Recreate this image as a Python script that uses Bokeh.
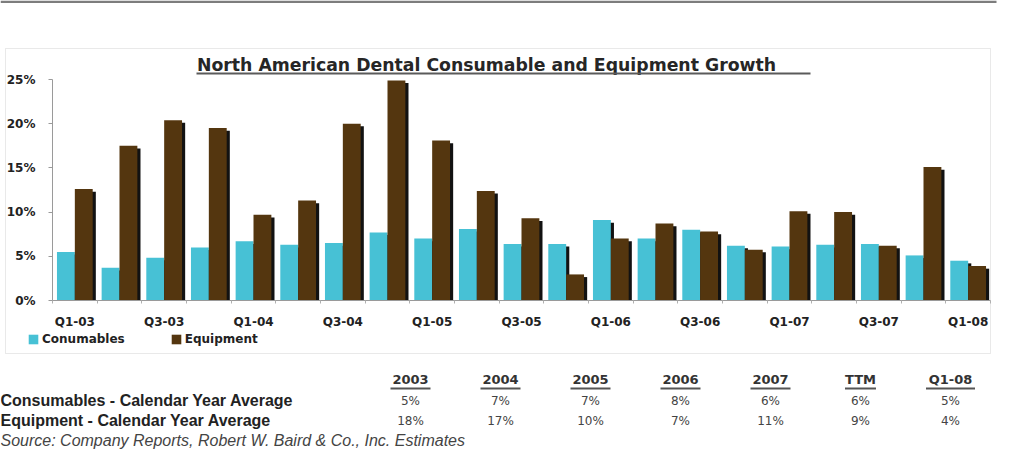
from bokeh.plotting import figure
from bokeh.models import (Range1d, Label, BoxAnnotation, Legend, LegendItem, LinearAxis,
                          FixedTicker, PrintfTickFormatter, ColumnDataSource)
from bokeh.embed import file_html
from bokeh.resources import INLINE
import numpy as np

# ---------------- data ----------------
quarters = ["Q1-03", "Q2-03", "Q3-03", "Q4-03", "Q1-04", "Q2-04", "Q3-04", "Q4-04",
            "Q1-05", "Q2-05", "Q3-05", "Q4-05", "Q1-06", "Q2-06", "Q3-06", "Q4-06",
            "Q1-07", "Q2-07", "Q3-07", "Q4-07", "Q1-08"]
consumables = [5.5, 3.7, 4.85, 6.0, 6.7, 6.3, 6.5, 7.7, 7.0, 8.1, 6.4,
               6.4, 9.1, 7.0, 8.0, 6.2, 6.1, 6.3, 6.4, 5.1, 4.5]
equipment = [12.6, 17.5, 20.4, 19.5, 9.7, 11.3, 20.0, 24.9, 18.1, 12.4, 9.3,
             2.95, 7.0, 8.7, 7.8, 5.75, 10.1, 10.0, 6.2, 15.1, 3.9]
y_ticks = [0, 5, 10, 15, 20, 25]

periods = ["2003", "2004", "2005", "2006", "2007", "TTM", "Q1-08"]
cons_avg = ["5%", "7%", "7%", "8%", "6%", "6%", "5%"]
equip_avg = ["18%", "17%", "10%", "7%", "11%", "9%", "4%"]

title_text = "North American Dental Consumable and Equipment Growth"
row1_label = "Consumables - Calendar Year Average"
row2_label = "Equipment - Calendar Year Average"
source_text = "Source: Company Reports, Robert W. Baird & Co., Inc. Estimates"

# ---------------- layout ----------------
W, H = 1034, 450
PL, PR, PT, PB = 52, 990, 79, 300  # plot area edges in canvas px (x axis span, 25% .. 0%)
YMAX = 25
n = len(quarters)
ux = (PR - PL) / n           # px per category
uy = (PB - PT) / YMAX        # px per percent
CYAN = "#47c1d5"
BROWN = "#54360f"
SHADOW = "#121212"
FONT = "DejaVu Sans"
FONT2 = "Liberation Sans"

def sx(x):
    return x

def sy(y):
    return H - y

idx = np.arange(n) + 0.5
src = ColumnDataSource(dict(
    xc=idx - 0.2, xe=idx + 0.2,
    xcs=idx - 0.2 + 0.07, xes=idx + 0.2 + 0.07,
    cons=consumables, equip=equipment,
    cons_sh=list(np.array(consumables) - 0.3),
    equip_sh=list(np.array(equipment) - 0.3),
))

p = figure(width=W, height=H,
           x_range=Range1d(-PL / ux, n + (W - PR) / ux),
           y_range=Range1d(-(H - PB) / uy, YMAX + PT / uy),
           output_backend="svg", toolbar_location=None,
           x_axis_location=None, y_axis_location=None,
           min_border=0, min_border_left=0, min_border_right=0,
           min_border_top=0, min_border_bottom=0)
p.outline_line_color = None
p.xgrid.visible = False
p.ygrid.visible = False
p.background_fill_color = "white"
p.border_fill_color = "white"

bw = 0.4
p.vbar(x="xcs", top="cons_sh", width=bw, source=src, fill_color=SHADOW, line_color=None)
r_c = p.vbar(x="xc", top="cons", width=bw, source=src, fill_color=CYAN, line_color=None)
p.vbar(x="xes", top="equip_sh", width=bw, source=src, fill_color=SHADOW, line_color=None)
r_e = p.vbar(x="xe", top="equip", width=bw, source=src, fill_color=BROWN, line_color=None)

# axes (fixed inside the canvas)
yax = LinearAxis(fixed_location=0, bounds=(0, YMAX),
                 ticker=FixedTicker(ticks=y_ticks),
                 formatter=PrintfTickFormatter(format="%d%%"))
yax.major_label_text_font = FONT
yax.major_label_text_font_style = "bold"
yax.major_label_text_font_size = "12px"
yax.major_label_text_color = "#222222"
yax.major_tick_out = 4
yax.major_tick_in = 0
yax.minor_tick_out = 0
yax.minor_tick_in = 0
yax.axis_line_color = "#9a9a9a"
yax.major_tick_line_color = "#9a9a9a"
yax.major_label_standoff = 13
p.add_layout(yax, "left")

label_ticks = [float(v) for v in idx[::2]]
xax = LinearAxis(fixed_location=0, bounds=(0, n),
                 ticker=FixedTicker(ticks=label_ticks, minor_ticks=list(range(n + 1))))
xax.major_label_overrides = {float(v): quarters[i] for i, v in enumerate(idx) if i % 2 == 0}
xax.major_label_text_font = FONT
xax.major_label_text_font_style = "bold"
xax.major_label_text_font_size = "12px"
xax.major_label_text_color = "#222222"
xax.major_tick_out = 0
xax.major_tick_in = 0
xax.minor_tick_out = 3
xax.minor_tick_in = 0
xax.minor_tick_line_color = "#b0b0b0"
xax.axis_line_color = "#9a9a9a"
xax.major_label_standoff = 11
p.add_layout(xax, "below")

# legend (location = bottom-left corner, frame coords)
legend = Legend(items=[LegendItem(label="Conumables", renderers=[r_c]),
                       LegendItem(label="Equipment", renderers=[r_e])],
                orientation="horizontal", location=(sx(27), sy(346)),
                padding=0, margin=0, spacing=45, glyph_width=12, glyph_height=12,
                label_standoff=3, border_line_color=None, background_fill_alpha=0,
                label_text_font=FONT, label_text_font_style="bold",
                label_text_font_size="12px", label_text_color="#222222",
                label_height=12)
p.add_layout(legend, "center")

def sbox(l, r, t, b, **kw):
    return BoxAnnotation(left=sx(l), right=sx(r), top=sy(t), bottom=sy(b),
                         left_units="screen", right_units="screen", top_units="screen",
                         bottom_units="screen", **kw)

# chart box and top rule
p.add_layout(sbox(5, 990, 48, 353, fill_alpha=0, line_color="#b5b5b5", line_width=1,
                  level="underlay"))
p.add_layout(sbox(0, 996, 0, 2.5, fill_color="#7d7d7d", fill_alpha=1, line_color=None))

# title
p.add_layout(Label(x=sx(486), y=sy(64), x_units="screen", y_units="screen", text=title_text,
                   text_font=FONT, text_font_style="bold", text_font_size="17.3px",
                   text_color="#262626", text_align="center", text_baseline="middle"))
p.add_layout(sbox(196, 810, 72, 74, fill_color="#5a5a5a", fill_alpha=1, line_color=None))

# table
col0, step = 410, 90
for i, (per, c, e) in enumerate(zip(periods, cons_avg, equip_avg)):
    cx = col0 + i * step
    p.add_layout(Label(x=sx(cx), y=sy(379), x_units="screen", y_units="screen", text=per,
                       text_font=FONT, text_font_style="bold", text_font_size="13px",
                       text_color="#333333", text_align="center", text_baseline="middle"))
    uw = len(per) * 9 + 4
    p.add_layout(sbox(cx - uw / 2, cx + uw / 2, 387, 389, fill_color="#555555",
                      fill_alpha=1, line_color=None))
    p.add_layout(Label(x=sx(cx), y=sy(400), x_units="screen", y_units="screen", text=c,
                       text_font=FONT, text_font_size="12px", text_color="#444444",
                       text_align="center", text_baseline="middle"))
    p.add_layout(Label(x=sx(cx), y=sy(420), x_units="screen", y_units="screen", text=e,
                       text_font=FONT, text_font_size="12px", text_color="#444444",
                       text_align="center", text_baseline="middle"))

p.add_layout(Label(x=sx(0), y=sy(400), x_units="screen", y_units="screen", text=row1_label,
                   text_font=FONT2, text_font_style="bold", text_font_size="16px",
                   text_color="#222222", text_align="left", text_baseline="middle"))
p.add_layout(Label(x=sx(0), y=sy(420), x_units="screen", y_units="screen", text=row2_label,
                   text_font=FONT2, text_font_style="bold", text_font_size="16px",
                   text_color="#222222", text_align="left", text_baseline="middle"))
p.add_layout(Label(x=sx(0), y=sy(440), x_units="screen", y_units="screen", text=source_text,
                   text_font=FONT2, text_font_style="italic", text_font_size="16px",
                   text_color="#444444", text_align="left", text_baseline="middle"))

open("out.html", "w").write(file_html(p, INLINE))
